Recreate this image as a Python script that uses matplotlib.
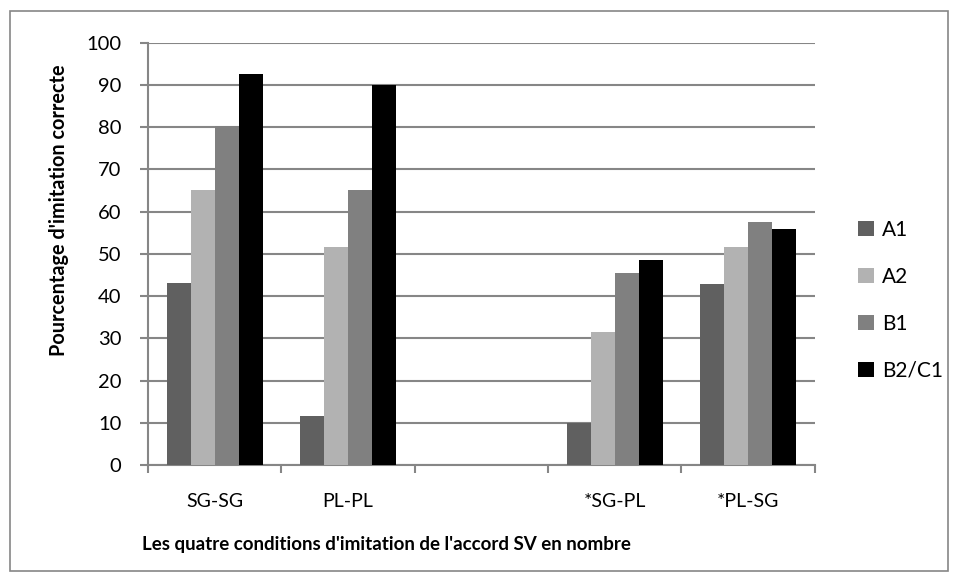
import numpy as np
import matplotlib.pyplot as plt
from matplotlib.patches import Rectangle

# DONNÉES
categories = ['SG-SG', 'PL-PL', '', '*SG-PL', '*PL-SG']
a1 = [43.0, 11.6, np.nan, 9.9, 42.9]
a2 = [65.0, 51.6, np.nan, 31.6, 51.6]
b1 = [80.3, 65.1, np.nan, 45.4, 57.5]
b2c1 = [92.5, 90.1, np.nan, 48.5, 56.0]

series = [('A1', a1, '#606060'), ('A2', a2, '#b2b2b2'),
          ('B1', b1, '#808080'), ('B2/C1', b2c1, '#000000')]

plt.rcParams['font.family'] = ['Lato', 'DejaVu Sans']
grid_col = '#868686'

fig = plt.figure(figsize=(9.58, 5.81), dpi=100)
ax = fig.add_axes([0.1545, 0.1997, 0.6958, 0.7268])

# cadre extérieur
fig.patches.append(Rectangle((10 / 958, 10 / 581), 938 / 958, 560 / 581,
                             transform=fig.transFigure, fill=False,
                             edgecolor=grid_col, linewidth=1.2))

x = np.arange(len(categories)) + 0.5
w = 0.18
for i, (name, vals, col) in enumerate(series):
    ax.bar(x + (i - 1.5) * w, vals, width=w, color=col, label=name, zorder=3)

ax.set_xlim(0, len(categories))
ax.set_ylim(0, 100)
ax.set_yticks(np.arange(0, 101, 10))
ax.yaxis.grid(True, color=grid_col, linewidth=1.5, zorder=0)

ax.set_xticks(x)
ax.set_xticklabels(categories)
ax.set_xticks(np.arange(0, len(categories) + 1), minor=True)
ax.tick_params(axis='x', which='major', length=0, labelsize=14, pad=20)
ax.tick_params(axis='x', which='minor', length=6, width=1.5, color=grid_col)
ax.tick_params(axis='y', length=6, width=1.5, color=grid_col, labelsize=14.5, pad=13)

for s in ['top', 'right']:
    ax.spines[s].set_visible(False)
for s in ['left', 'bottom']:
    ax.spines[s].set_color(grid_col)
    ax.spines[s].set_linewidth(1.5)

ax.set_ylabel("Pourcentage d'imitation correcte", fontsize=14.3, fontweight='bold')
ax.yaxis.set_label_coords(-0.118, 0.603)
ax.set_xlabel("Les quatre conditions d'imitation de l'accord SV en nombre",
              fontsize=13.5, fontweight='bold')
ax.xaxis.set_label_coords(0.357, -0.168)

ax.legend(loc='center left', bbox_to_anchor=(1.037, 0.39), frameon=False,
          fontsize=15, handlelength=0.75, handleheight=0.75, handletextpad=0.4,
          labelspacing=1.3)

plt.savefig('out.png', dpi=100)
